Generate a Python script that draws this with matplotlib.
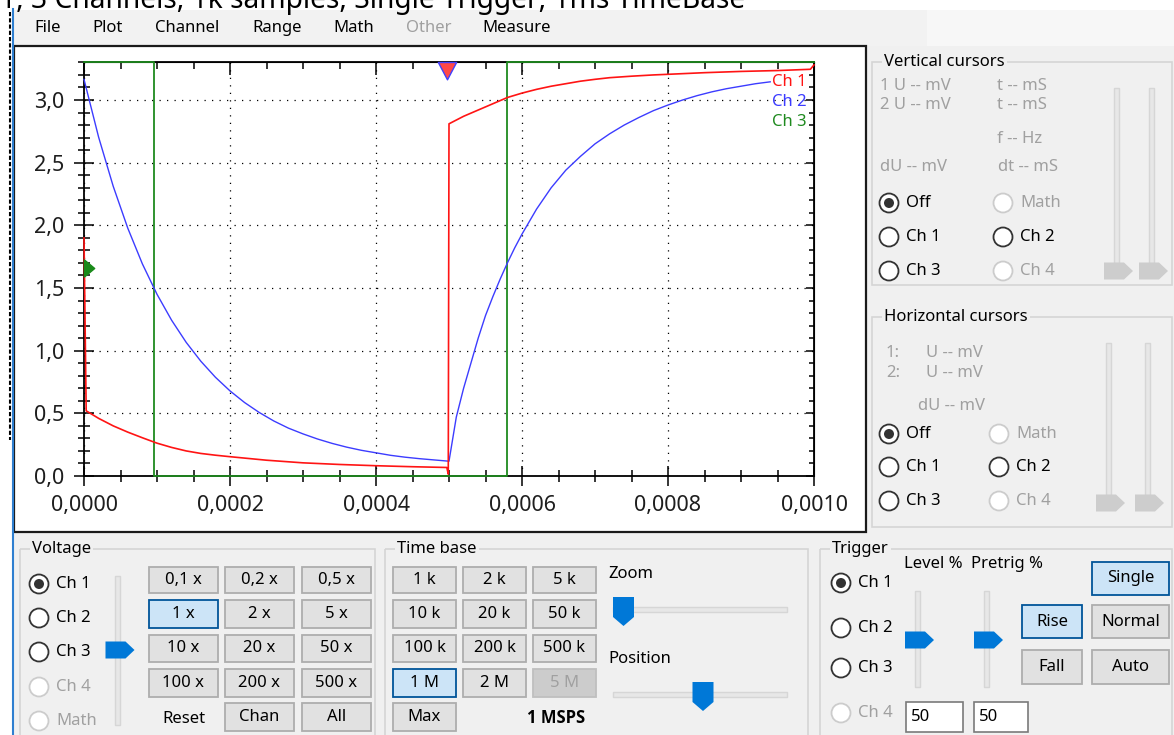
import matplotlib
matplotlib.use("Agg")
import matplotlib.pyplot as plt
from matplotlib.patches import Rectangle, Circle, Polygon
from matplotlib.path import Path
from matplotlib.ticker import MultipleLocator, FuncFormatter, NullFormatter

plt.rcParams["font.family"] = ["Noto Sans", "DejaVu Sans"]

W, H = 1174, 735
BG = "#f0f0f0"

# ---- values ----
CH1_T = [0.0, 0.000003, 0.00002, 0.00004, 0.00006, 0.00008, 0.0001, 0.00012, 0.00014, 0.00016,
         0.00018, 0.0002, 0.00025, 0.0003, 0.00035, 0.0004, 0.00045, 0.000497, 0.000499, 0.0005,
         0.00052, 0.00054, 0.00056, 0.00058, 0.0006, 0.00062, 0.00064, 0.00066, 0.00068, 0.0007,
         0.00072, 0.00075, 0.00078, 0.0008, 0.00085, 0.0009, 0.00095, 0.000995, 0.001]
CH1_V = [1.9, 0.52, 0.46, 0.40, 0.35, 0.305, 0.262, 0.228, 0.2, 0.18,
         0.166, 0.154, 0.126, 0.105, 0.092, 0.082, 0.074, 0.068, 0.015, 2.81,
         2.87, 2.92, 2.97, 3.02, 3.055, 3.085, 3.11, 3.13, 3.15, 3.165,
         3.178, 3.19, 3.2, 3.205, 3.218, 3.228, 3.235, 3.245, 3.28]

CH2_T = [0.0, 0.00002, 0.00004, 0.00006, 0.00008, 0.0001, 0.00012, 0.00014, 0.00016, 0.00018,
         0.0002, 0.00022, 0.00024, 0.00026, 0.00028, 0.0003, 0.00032, 0.00034, 0.00036, 0.00038,
         0.0004, 0.00042, 0.00044, 0.00046, 0.00048, 0.0005, 0.00051, 0.00052, 0.00053, 0.00054,
         0.00055, 0.00056, 0.00057, 0.00058, 0.00059, 0.0006, 0.00062, 0.00064, 0.00066, 0.00068,
         0.0007, 0.00072, 0.00074, 0.00076, 0.00078, 0.0008, 0.00082, 0.00084, 0.00086, 0.00088,
         0.0009, 0.00092, 0.00094]
CH2_V = [3.165, 2.704, 2.312, 1.977, 1.692, 1.45, 1.243, 1.066, 0.916, 0.788,
         0.679, 0.586, 0.507, 0.439, 0.382, 0.336, 0.295, 0.26, 0.23, 0.205,
         0.185, 0.165, 0.15, 0.138, 0.128, 0.118, 0.47, 0.70, 0.90, 1.10,
         1.28, 1.43, 1.57, 1.70, 1.82, 1.93, 2.13, 2.30, 2.44, 2.55,
         2.65, 2.73, 2.80, 2.86, 2.915, 2.96, 3.0, 3.035, 3.065, 3.09,
         3.11, 3.13, 3.145]

CH3_T = [0.0, 0.0000955, 0.0000955, 0.000579, 0.000579, 0.001]
CH3_V = [3.3, 3.3, 0.0, 0.0, 3.3, 3.3]

TRIG_LEVEL = 1.66
PRETRIG_T = 0.000497

CH_NAMES = ["Ch 1", "Ch 2", "Ch 3"]
CH_COLORS = ["#ff1414", "#3c3cff", "#1f8a1f"]

TITLE = "1, 3 Channels, 1k samples, Single Trigger, 1ms TimeBase"
MENU = ["File", "Plot", "Channel", "Range", "Math", "Other", "Measure"]
VOLT_BUTTONS = [["0,1 x", "0,2 x", "0,5 x"], ["1 x", "2 x", "5 x"],
                ["10 x", "20 x", "50 x"], ["100 x", "200 x", "500 x"]]
TIME_BUTTONS = [["1 k", "2 k", "5 k"], ["10 k", "20 k", "50 k"],
                ["100 k", "200 k", "500 k"], ["1 M", "2 M", "5 M"]]
GUI_FS = 12


def button(ax, x0, x1, y0, y1, label, state="normal"):
    face, edge, color = "#e1e1e1", "#adadad", "black"
    if state == "on":
        face, edge = "#cce4f7", "#005499"
    elif state == "off":
        face, edge, color = "#cccccc", "#bfbfbf", "#a0a0a0"
    ax.add_patch(Rectangle((x0, y0), x1 - x0, y1 - y0, facecolor=face, edgecolor=edge, linewidth=1.3))
    ax.text((x0 + x1) / 2, (y0 + y1) / 2, label, ha="center", va="center", fontsize=GUI_FS, color=color)


def radio(ax, cx, cy, label, checked=False, enabled=True):
    edge = "#333333" if enabled else "#cccccc"
    ax.add_patch(Circle((cx, cy), 9.5, facecolor="white", edgecolor=edge, linewidth=1.3))
    if checked:
        ax.add_patch(Circle((cx, cy), 5, facecolor="#333333", edgecolor="none"))
    ax.text(cx + 17, cy, label, va="center", fontsize=GUI_FS, color="black" if enabled else "#a0a0a0")


def group(ax, x0, x1, y0, y1, title):
    ax.add_patch(Rectangle((x0, y0), x1 - x0, y1 - y0, facecolor="none", edgecolor="#d5d5d5", linewidth=1.2))
    ax.text(x0 + 12, y0, title, va="center", fontsize=GUI_FS,
            bbox=dict(facecolor=BG, edgecolor="none", pad=1.5))


def vslider(ax, x, y0, y1, ty, color):
    ax.add_patch(Rectangle((x - 2.5, y0), 5, y1 - y0, facecolor="#e7e7e7", edgecolor="#d6d6d6", linewidth=1))
    ax.add_patch(Polygon([(x - 12, ty - 8.5), (x + 8, ty - 8.5), (x + 17, ty), (x + 8, ty + 8.5), (x - 12, ty + 8.5)],
                         closed=True, facecolor=color, edgecolor="none"))


def hslider(ax, x0, x1, y, tx):
    ax.add_patch(Rectangle((x0, y - 2.5), x1 - x0, 5, facecolor="#e7e7e7", edgecolor="#d6d6d6", linewidth=1))
    ax.add_patch(Polygon([(tx - 10.5, y - 12), (tx + 10.5, y - 12), (tx + 10.5, y + 8), (tx, y + 17), (tx - 10.5, y + 8)],
                         closed=True, facecolor="#0078d7", edgecolor="none"))


fig = plt.figure(figsize=(W / 100, H / 100), dpi=100)
bg = fig.add_axes([0, 0, 1, 1])
bg.set_xlim(0, W)
bg.set_ylim(H, 0)
bg.axis("off")

# window chrome
bg.add_patch(Rectangle((0, 0), W, H, facecolor=BG, edgecolor="none"))
bg.add_patch(Rectangle((0, 0), W, 9.5, facecolor="white", edgecolor="none"))
bg.add_patch(Rectangle((0, 0), 12, H, facecolor="white", edgecolor="none"))
bg.add_patch(Rectangle((12.5, 9.5), 914, 36.5, facecolor="#f2f2f2", edgecolor="none"))
bg.add_patch(Rectangle((926.5, 9.5), W - 926.5, 36.5, facecolor="#f7f7f7", edgecolor="none"))
bg.plot([10, 10], [12, 440], color="black", linewidth=1.5, linestyle=(0, (2, 1)))
bg.plot([12.5, 12.5], [9, H], color="#2f7fd0", linewidth=1.5)
bg.text(0, 7.5, TITLE, ha="left", va="baseline", fontsize=20.3, color="black")

menu_x = [34, 92, 155, 252, 333, 406, 482]
for name, mx in zip(MENU, menu_x):
    bg.text(mx, 27.5, name, va="center", fontsize=GUI_FS, color="#a0a0a0" if name == "Other" else "black")

# plot panel
bg.add_patch(Rectangle((14, 46), 852, 486, facecolor="white", edgecolor="#1a1a1a", linewidth=1.6))

# vertical cursors
group(bg, 872, 1172, 62, 285, "Vertical cursors")
grey = "#a0a0a0"
for txt, x, y in [("1 U -- mV", 880, 86), ("2 U -- mV", 880, 105), ("t -- mS", 997, 86), ("t -- mS", 997, 105),
                  ("f -- Hz", 997, 139), ("dU -- mV", 880, 167), ("dt -- mS", 998, 167)]:
    bg.text(x, y, txt, va="center", fontsize=GUI_FS, color=grey)
radio(bg, 889, 203, "Off", checked=True)
radio(bg, 1003, 203, "Math", enabled=False)
radio(bg, 889, 237, "Ch 1")
radio(bg, 1003, 237, "Ch 2")
radio(bg, 889, 271, "Ch 3")
radio(bg, 1003, 271, "Ch 4", enabled=False)
vslider(bg, 1116, 88, 270, 271, "#cdcdcd")
vslider(bg, 1151, 88, 270, 271, "#cdcdcd")

# horizontal cursors
group(bg, 872, 1172, 317, 527, "Horizontal cursors")
for txt, x, y in [("1:", 886, 353), ("U -- mV", 926, 353), ("2:", 886, 373), ("U -- mV", 926, 373),
                  ("dU -- mV", 918, 406)]:
    bg.text(x, y, txt, va="center", fontsize=GUI_FS, color=grey)
radio(bg, 889, 434, "Off", checked=True)
radio(bg, 999, 434, "Math", enabled=False)
radio(bg, 889, 467, "Ch 1")
radio(bg, 999, 467, "Ch 2")
radio(bg, 889, 501, "Ch 3")
radio(bg, 999, 501, "Ch 4", enabled=False)
vslider(bg, 1108, 343, 500, 503, "#cdcdcd")
vslider(bg, 1147, 343, 500, 503, "#cdcdcd")

rows = [(567, 593), (600, 628), (635, 662), (669, 697), (703, 731)]

# voltage
group(bg, 20, 375, 549, 745, "Voltage")
radio(bg, 39, 584, "Ch 1", checked=True)
radio(bg, 39, 618, "Ch 2")
radio(bg, 39, 652, "Ch 3")
radio(bg, 39, 687, "Ch 4", enabled=False)
radio(bg, 39, 721, "Math", enabled=False)
vslider(bg, 117.5, 576, 725, 650, "#0078d7")
vcols = [(149, 218), (225, 294), (302, 371)]
for r, labels in enumerate(VOLT_BUTTONS):
    for c, lab in enumerate(labels):
        button(bg, *vcols[c], *rows[r], lab, "on" if lab == "1 x" else "normal")
bg.text(183.5, 719, "Reset", ha="center", va="center", fontsize=GUI_FS)
button(bg, *vcols[1], *rows[4], "Chan")
button(bg, *vcols[2], *rows[4], "All")

# time base
group(bg, 385, 808, 549, 745, "Time base")
tcols = [(393, 456), (463, 526), (533, 596)]
for r, labels in enumerate(TIME_BUTTONS):
    for c, lab in enumerate(labels):
        state = "on" if lab == "1 M" else ("off" if lab == "5 M" else "normal")
        button(bg, *tcols[c], *rows[r], lab, state)
button(bg, *tcols[0], *rows[4], "Max")
bg.text(556, 718, "1 MSPS", ha="center", va="center", fontsize=GUI_FS, fontweight="bold",
        family=["Open Sans", "DejaVu Sans"])
bg.text(608, 574, "Zoom", va="center", fontsize=GUI_FS)
hslider(bg, 613, 787, 609, 623.5)
bg.text(608, 659, "Position", va="center", fontsize=GUI_FS)
hslider(bg, 613, 787, 694, 703)

# trigger
group(bg, 820, 1172, 549, 745, "Trigger")
radio(bg, 841, 583, "Ch 1", checked=True)
radio(bg, 841, 628, "Ch 2")
radio(bg, 841, 668, "Ch 3")
radio(bg, 841, 713, "Ch 4", enabled=False)
bg.text(904, 564, "Level %", va="center", fontsize=GUI_FS)
bg.text(971, 564, "Pretrig %", va="center", fontsize=GUI_FS)
vslider(bg, 917, 591, 687, 640, "#0078d7")
vslider(bg, 986, 591, 687, 640, "#0078d7")
button(bg, 1092, 1169, 562, 595, "Single", "on")
button(bg, 1022, 1082, 605, 638, "Rise", "on")
button(bg, 1092, 1169, 605, 638, "Normal")
button(bg, 1022, 1082, 650, 684, "Fall")
button(bg, 1092, 1169, 650, 684, "Auto")
for x0, x1 in [(906, 963), (974, 1028)]:
    bg.add_patch(Rectangle((x0, 702), x1 - x0, 30, facecolor="white", edgecolor="#7a7a7a", linewidth=1.2))
    bg.text(x0 + 5, 717, "50", va="center", fontsize=GUI_FS)

# ---- scope plot ----
ax = fig.add_axes([84 / W, 1 - 476 / H, 730 / W, (476 - 62.4) / H])
ax.set_facecolor("none")
ax.set_xlim(0, 0.001)
ax.set_ylim(0, 3.3)
ax.xaxis.set_major_locator(MultipleLocator(0.0002))
ax.xaxis.set_minor_locator(MultipleLocator(0.00005))
ax.yaxis.set_major_locator(MultipleLocator(0.5))
ax.yaxis.set_minor_locator(MultipleLocator(0.1))
ax.xaxis.set_major_formatter(FuncFormatter(lambda v, _: f"{v:.4f}".replace(".", ",")))
ax.yaxis.set_major_formatter(FuncFormatter(lambda v, _: f"{v:.1f}".replace(".", ",")))
ax.tick_params(which="major", direction="inout", length=14, width=1.1, labelsize=15.5,
               labelcolor="#1e1e1e", pad=7)
ax.tick_params(which="minor", direction="inout", length=8, width=1.1)
for s in ax.spines.values():
    s.set_linewidth(1.3)
ax.grid(which="major", color="black", linestyle=(0, (1, 5)), linewidth=0.9)

top = ax.secondary_xaxis("top")
top.xaxis.set_major_locator(MultipleLocator(0.0002))
top.xaxis.set_minor_locator(MultipleLocator(0.00005))
top.xaxis.set_major_formatter(NullFormatter())
top.tick_params(which="major", direction="in", length=9, width=1.1)
top.tick_params(which="minor", direction="in", length=5, width=1.1)
right = ax.secondary_yaxis("right")
right.yaxis.set_major_locator(MultipleLocator(0.5))
right.yaxis.set_minor_locator(MultipleLocator(0.1))
right.yaxis.set_major_formatter(NullFormatter())
right.tick_params(which="major", direction="in", length=6, width=1.1)
right.tick_params(which="minor", direction="in", length=3.5, width=1.1)

ax.plot(CH3_T, CH3_V, color=CH_COLORS[2], linewidth=1.3, clip_on=False, zorder=3)
ax.plot(CH2_T, CH2_V, color=CH_COLORS[1], linewidth=1.0, clip_on=False, zorder=3)
ax.plot(CH1_T, CH1_V, color=CH_COLORS[0], linewidth=1.2, clip_on=False, zorder=3)

right_tri = Path([(0, -1), (1.2, 0), (0, 1), (0, -1)], [Path.MOVETO, Path.LINETO, Path.LINETO, Path.CLOSEPOLY])
down_tri = Path([(-1, 0), (1, 0), (0, -1.9), (-1, 0)], [Path.MOVETO, Path.LINETO, Path.LINETO, Path.CLOSEPOLY])
ax.plot([0], [TRIG_LEVEL], marker=right_tri, markersize=14.7, color="#1a8a1a", linestyle="none",
        clip_on=False, zorder=5)
ax.plot([PRETRIG_T], [3.3], marker=down_tri, markersize=25, markerfacecolor="#ff4848",
        markeredgecolor="#4040ff", markeredgewidth=1.0, linestyle="none", clip_on=False, zorder=5)

for name, color, y in zip(CH_NAMES, CH_COLORS, [82, 102, 122]):
    ax.text(807, y, name, ha="right", va="center", fontsize=GUI_FS, color=color,
            transform=bg.transData, zorder=6)

fig.savefig("out.png", dpi=100)
